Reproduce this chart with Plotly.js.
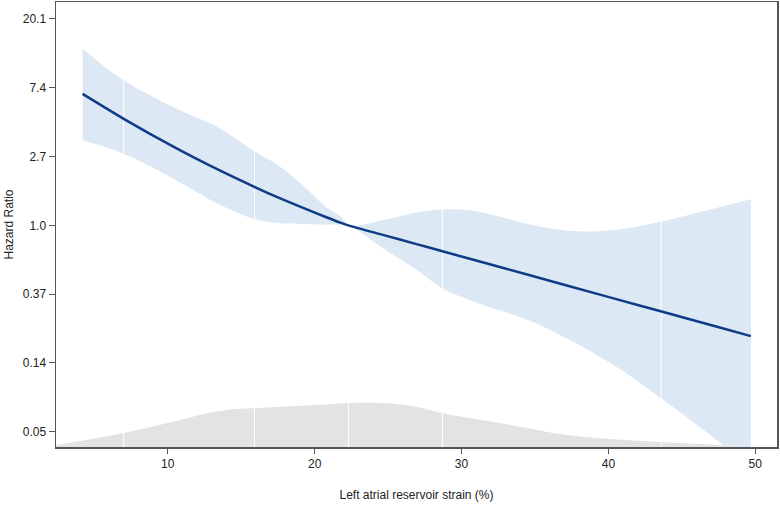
<!DOCTYPE html>
<html>
<head>
<meta charset="utf-8">
<script src="https://cdn.plot.ly/plotly-3.0.1.min.js"></script>
<style>
  html, body { margin: 0; padding: 0; background: #fff; }
  #viz { width: 780px; height: 505px; }
</style>
</head>
<body>
<div id="viz"></div>
<script>
// spline estimate of hazard ratio with 95% CI
var strain = [4.2, 7.0, 10.6, 13.4, 16.0, 17.7, 19.3, 20.8, 21.8, 22.3, 24.7, 27.0, 28.7, 31.0, 34.9, 37.6, 40.6, 43.5, 47.4, 49.7];
var hr     = [6.760, 4.707, 3.062, 2.255, 1.733, 1.474, 1.279, 1.125, 1.037, 1.0, 0.868, 0.759, 0.686, 0.600, 0.477, 0.407, 0.341, 0.288, 0.229, 0.200];
var upper  = [13.05, 8.23, 5.45, 4.17, 2.90, 2.33, 1.75, 1.30, 1.13, 1.0, 1.08, 1.21, 1.26, 1.23, 1.0, 0.92, 0.94, 1.05, 1.29, 1.46];
var lower  = [3.44, 2.83, 1.92, 1.37, 1.09, 1.03, 1.02, 1.01, 1.01, 1.0, 0.712, 0.520, 0.399, 0.326, 0.245, 0.184, 0.127, 0.082, 0.044, 0.029];

// distribution of strain (density)
var densX = [2.4, 7.0, 10.0, 12.7, 14.0, 16.0, 20.2, 22.4, 24.7, 27.0, 28.7, 32.6, 37.2, 40.1, 43.5, 47.4, 48.6];
var densY = [0.0011, 0.0079, 0.0135, 0.019, 0.0208, 0.0219, 0.0236, 0.0247, 0.0247, 0.0225, 0.019, 0.0135, 0.0067, 0.0045, 0.0028, 0.0011, 0];

// spline knots
var knots = [7.0, 15.9, 22.3, 28.7, 43.6];

var yTickVals = [0.0498, 0.1353, 0.3679, 1, 2.718, 7.389, 20.09];
var yTickText = ['0.05', '0.14', '0.37', '1.0', '2.7', '7.4', '20.1'];
var xTickVals = [10, 20, 30, 40, 50];

var knotX = [], knotY = [];
knots.forEach(function (k) {
  knotX.push(k, k, null);
  knotY.push(0, 0.25, null);
});

var bandLow = {
  x: strain, y: lower,
  mode: 'lines',
  line: { width: 0, shape: 'spline' },
  hoverinfo: 'skip', showlegend: false
};

var bandHigh = {
  x: strain, y: upper,
  mode: 'lines', fill: 'tonexty',
  fillcolor: 'rgb(221,232,245)',
  line: { width: 0, shape: 'spline' },
  hoverinfo: 'skip', showlegend: false
};

var density = {
  x: densX, y: densY, yaxis: 'y2',
  mode: 'lines', fill: 'tozeroy',
  fillcolor: 'rgb(227,227,227)',
  line: { width: 0, shape: 'spline' },
  showlegend: false
};

var knotLines = {
  x: knotX, y: knotY, yaxis: 'y2',
  mode: 'lines',
  line: { color: 'white', width: 1 },
  hoverinfo: 'skip', showlegend: false
};

var fit = {
  x: strain, y: hr, yaxis: 'y3',
  mode: 'lines',
  line: { color: 'rgb(14,60,135)', width: 2.5, shape: 'spline', smoothing: 0.8 },
  showlegend: false
};

var font = { family: 'Liberation Sans, Arial, sans-serif', size: 12, color: '#222' };
var yRange = [-1.399, 1.410];

var layout = {
  width: 780, height: 505,
  margin: { l: 56, r: 3, t: 2, b: 58 },
  paper_bgcolor: 'white', plot_bgcolor: 'white',
  font: font,
  xaxis: {
    range: [2.39, 51.48],
    tickmode: 'array', tickvals: xTickVals,
    ticks: 'outside', ticklen: 5, tickcolor: '#555', tickwidth: 1,
    showgrid: false, zeroline: false,
    showline: true, linecolor: '#555', linewidth: 1.5, mirror: true,
    title: { text: 'Left atrial reservoir strain (%)', font: font, standoff: 20 }
  },
  yaxis: {
    type: 'log', range: yRange,
    tickmode: 'array', tickvals: yTickVals, ticktext: yTickText,
    ticks: 'outside', ticklen: 6, tickcolor: '#555', tickwidth: 1,
    showgrid: false, zeroline: false,
    showline: true, linecolor: '#555', linewidth: 1.5, mirror: true,
    title: { text: 'Hazard Ratio', font: font, standoff: 6 }
  },
  yaxis2: {
    overlaying: 'y', range: [0, 0.25], visible: false, fixedrange: true
  },
  yaxis3: {
    overlaying: 'y', type: 'log', range: yRange, visible: false
  }
};

Plotly.newPlot('viz', [bandLow, bandHigh, density, knotLines, fit], layout, { displayModeBar: false, staticPlot: true });
</script>
</body>
</html>
